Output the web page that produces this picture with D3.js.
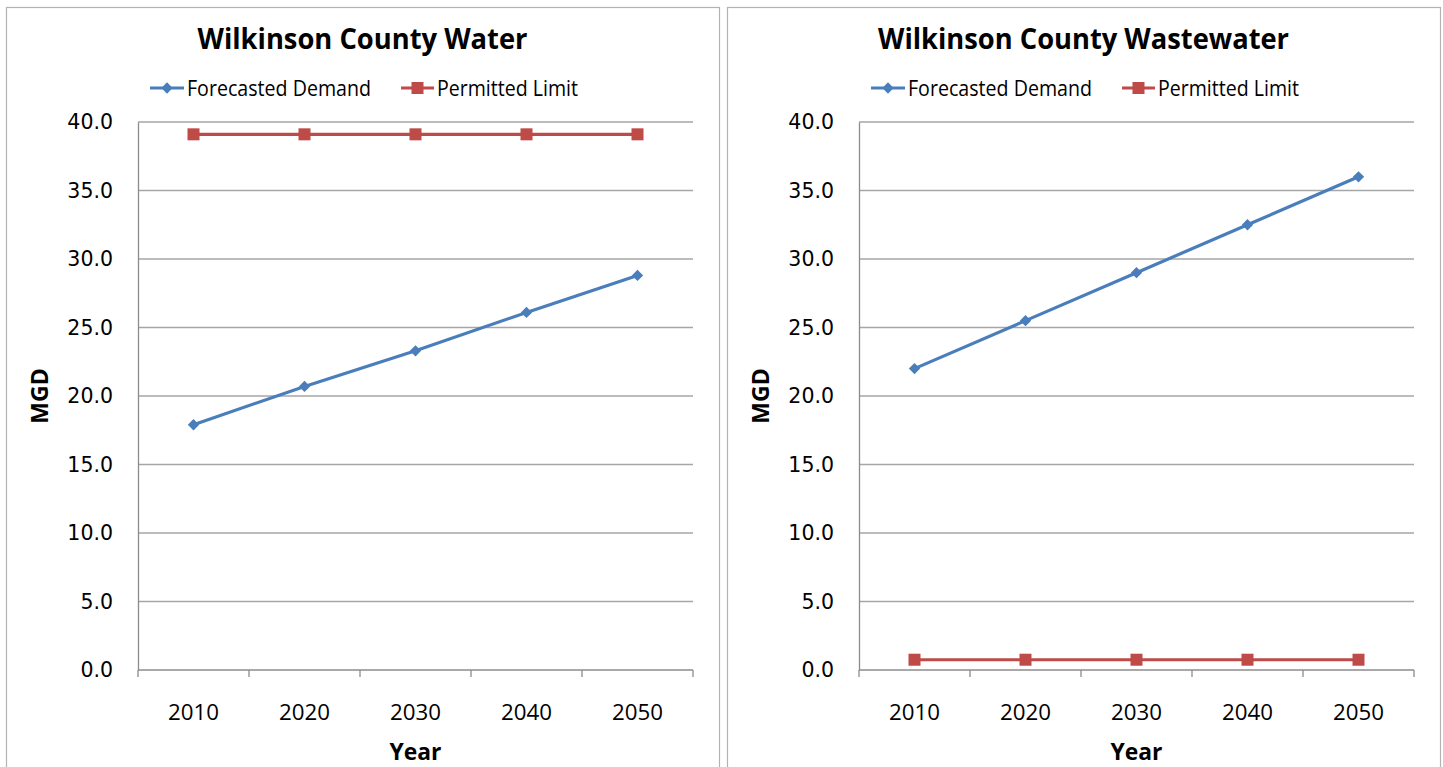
<!DOCTYPE html>
<html>
<head>
<meta charset="utf-8">
<script src="https://cdn.jsdelivr.net/npm/d3@7"></script>
<style>
  body { margin: 0; background: #fff; }
  text { font-family: "Open Sans", sans-serif; fill: #000; }
  .ytick text { font-family: "DejaVu Sans", sans-serif; }
</style>
</head>
<body>
<svg width="1443" height="767"></svg>
<script>
const years = ["2010", "2020", "2030", "2040", "2050"];
const yTicks = [0, 5, 10, 15, 20, 25, 30, 35, 40];

const waterDemand = [17.9, 20.7, 23.3, 26.1, 28.8];
const waterLimit = [39.1, 39.1, 39.1, 39.1, 39.1];

const wasteDemand = [22.0, 25.5, 29.0, 32.5, 36.0];
const wasteLimit = [0.75, 0.75, 0.75, 0.75, 0.75];

const panels = [
  { title: "Wilkinson County Water", titleLen: 330, demand: waterDemand, limit: waterLimit, left: 6 },
  { title: "Wilkinson County Wastewater", titleLen: 411, demand: wasteDemand, limit: wasteLimit, left: 727 }
];

const svg = d3.select("svg");
const blue = "#4a7ebb", red = "#be4b48";
const pw = 713;

// Excel style diamond, as wide as it is tall
const diamond = d3.symbol().type(d3.symbolSquare).size(64);

panels.forEach(function (p) {
  const g = svg.append("g").attr("transform", "translate(" + p.left + ",7)");

  g.append("rect")
    .attr("x", 0.5).attr("y", 0.5)
    .attr("width", pw).attr("height", 800)
    .attr("fill", "#fff").attr("stroke", "#b3b3b3").attr("stroke-width", 1.2);

  const x = d3.scaleBand().domain(years).range([132, 687]);
  const y = d3.scaleLinear().domain([0, 40]).range([663, 115]);

  // gridlines
  g.append("g")
    .selectAll("line")
    .data(yTicks.filter(d => d > 0))
    .enter()
    .append("line")
    .attr("x1", 132).attr("x2", 687)
    .attr("y1", d => y(d)).attr("y2", d => y(d))
    .attr("stroke", "#a6a6a6").attr("stroke-width", 1.3);

  // y axis
  const yAxis = g.append("g").attr("class", "ytick")
    .attr("transform", "translate(132,0)")
    .call(d3.axisLeft(y).tickValues(yTicks).tickSize(0).tickPadding(25).tickFormat(d3.format(".1f")));
  yAxis.select(".domain").attr("stroke", "#8c8c8c").attr("stroke-width", 1.3);
  yAxis.selectAll("text").style("font-size", "20.5px").attr("fill", "#000");

  // x axis
  const xAxis = g.append("g").attr("transform", "translate(0,663)")
    .call(d3.axisBottom(x).tickSize(0).tickPadding(34));
  xAxis.select(".domain").attr("d", "M132,0H687").attr("stroke", "#8c8c8c").attr("stroke-width", 1.3);
  xAxis.selectAll("text").style("font-size", "22px").attr("fill", "#000")
    .attr("textLength", 51).attr("lengthAdjust", "spacingAndGlyphs");
  xAxis.selectAll("line.bt")
    .data(years.concat(["end"]))
    .enter()
    .append("line").attr("class", "bt")
    .attr("x1", (d, i) => 132 + i * x.step()).attr("x2", (d, i) => 132 + i * x.step())
    .attr("y1", 0).attr("y2", 7)
    .attr("stroke", "#8c8c8c").attr("stroke-width", 1.3);

  const cx = d => x(d) + x.bandwidth() / 2;
  const line = d3.line().x((d, i) => cx(years[i])).y(d => y(d));

  // limit series
  g.append("path").datum(p.limit)
    .attr("d", line).attr("fill", "none")
    .attr("stroke", red).attr("stroke-width", 3.2);
  g.selectAll("rect.sq").data(p.limit).enter()
    .append("rect").attr("class", "sq")
    .attr("x", (d, i) => cx(years[i]) - 6).attr("y", d => y(d) - 6)
    .attr("width", 12).attr("height", 12).attr("fill", red);

  // demand series
  g.append("path").datum(p.demand)
    .attr("d", line).attr("fill", "none")
    .attr("stroke", blue).attr("stroke-width", 3.2);
  g.selectAll("path.dm").data(p.demand).enter()
    .append("path").attr("class", "dm")
    .attr("transform", (d, i) => "translate(" + cx(years[i]) + "," + y(d) + ") rotate(45)")
    .attr("d", diamond).attr("fill", blue);

  // title
  g.append("text")
    .attr("x", pw / 2).attr("y", 42)
    .attr("text-anchor", "middle")
    .style("font-size", "29px").style("font-weight", "bold")
    .attr("textLength", p.titleLen).attr("lengthAdjust", "spacingAndGlyphs")
    .text(p.title);

  // legend
  const lg = g.append("g").attr("transform", "translate(144,81)");
  lg.append("line").attr("x1", 0).attr("x2", 34).attr("stroke", blue).attr("stroke-width", 3.2);
  lg.append("path").attr("transform", "translate(17,0) rotate(45)")
    .attr("d", diamond).attr("fill", blue);
  lg.append("text").attr("x", 37).attr("y", 7.5).style("font-size", "21px")
    .attr("textLength", 184).attr("lengthAdjust", "spacingAndGlyphs")
    .text("Forecasted Demand");
  lg.append("line").attr("x1", 251).attr("x2", 284).attr("stroke", red).attr("stroke-width", 3.2);
  lg.append("rect").attr("x", 261.5).attr("y", -6).attr("width", 12).attr("height", 12).attr("fill", red);
  lg.append("text").attr("x", 287).attr("y", 7.5).style("font-size", "21px")
    .attr("textLength", 141).attr("lengthAdjust", "spacingAndGlyphs")
    .text("Permitted Limit");

  // axis titles
  g.append("text")
    .attr("transform", "translate(42,389) rotate(-90)")
    .attr("text-anchor", "middle")
    .style("font-size", "23px").style("font-weight", "bold")
    .text("MGD");
  g.append("text")
    .attr("x", (132 + 687) / 2).attr("y", 753)
    .attr("text-anchor", "middle")
    .style("font-size", "23px").style("font-weight", "bold")
    .attr("textLength", 52).attr("lengthAdjust", "spacingAndGlyphs")
    .text("Year");
});
</script>
</body>
</html>
